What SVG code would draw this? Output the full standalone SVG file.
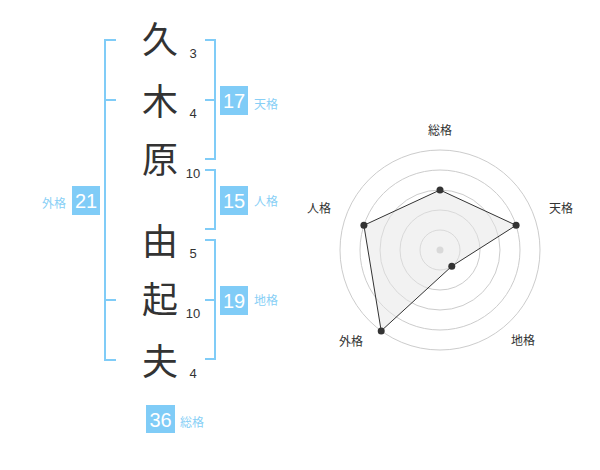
<svg xmlns="http://www.w3.org/2000/svg" width="600" height="470" viewBox="0 0 600 470">
<style>
.kanji{font-family:"Noto Sans CJK JP","Noto Sans CJK SC",sans-serif;font-size:36px;fill:#333;text-anchor:middle}
.num{font-family:"Liberation Sans",Arial,sans-serif;font-size:13px;fill:#333;text-anchor:middle}
.br{fill:none;stroke:#80ccf7;stroke-width:2}
.box{fill:#80ccf7}
.bn{font-family:"Liberation Sans",Arial,sans-serif;font-size:20px;fill:#fff;text-anchor:middle}
.lb{font-family:"Noto Sans CJK JP","Noto Sans CJK SC",sans-serif;font-size:12px;fill:#88cff6}
.rl{font-family:"Noto Sans CJK JP","Noto Sans CJK SC",sans-serif;font-size:12px;fill:#333;text-anchor:middle}
.ring{fill:none;stroke:#ccc;stroke-width:1}
.pt{fill:#333}
</style>
<rect width="600" height="470" fill="#fff"/>
<g id="name">
<g id="c1"><text class="kanji" x="160" y="53">久</text><text class="num" x="193" y="58">3</text></g>
<g id="c2"><text class="kanji" x="160" y="115">木</text><text class="num" x="193" y="118">4</text></g>
<g id="c3"><text class="kanji" x="160" y="173">原</text><text class="num" x="193" y="178">10</text></g>
<g id="c4"><text class="kanji" x="160" y="255">由</text><text class="num" x="193" y="258">5</text></g>
<g id="c5"><text class="kanji" x="160" y="313">起</text><text class="num" x="193" y="318">10</text></g>
<g id="c6"><text class="kanji" x="160" y="375">夫</text><text class="num" x="193" y="378">4</text></g>
</g>
<g id="brackets">
<path class="br" d="M116,40 H105 V360 H116 M105,100 H116 M105,300 H116"/>
<path class="br" d="M205,40 H215 V159 H205 M205,100 H215"/>
<path class="br" d="M205,170 H215 V229 H205"/>
<path class="br" d="M205,240 H215 V359 H205 M205,300 H215"/>
</g>
<g id="tenkaku"><rect class="box" x="220" y="86" width="28" height="29"/><text class="bn" x="234" y="108">17</text><text class="lb" x="254" y="109">天格</text></g>
<g id="jinkaku"><rect class="box" x="220" y="186" width="28" height="29"/><text class="bn" x="234" y="208">15</text><text class="lb" x="254" y="206">人格</text></g>
<g id="chikaku"><rect class="box" x="220" y="286" width="28" height="29"/><text class="bn" x="234" y="308">19</text><text class="lb" x="254" y="305">地格</text></g>
<g id="gaikaku"><rect class="box" x="72" y="186" width="28" height="29"/><text class="bn" x="86" y="208">21</text><text class="lb" x="66" y="208" text-anchor="end">外格</text></g>
<g id="soukaku"><rect class="box" x="146" y="405" width="29" height="28"/><text class="bn" x="160.5" y="427">36</text><text class="lb" x="180" y="427">総格</text></g>
<g id="radar">
<circle class="ring" cx="440" cy="250" r="20"/>
<circle class="ring" cx="440" cy="250" r="40"/>
<circle class="ring" cx="440" cy="250" r="60"/>
<circle class="ring" cx="440" cy="250" r="80"/>
<circle class="ring" cx="440" cy="250" r="100"/>
<circle cx="440" cy="250" r="3.5" fill="#ccc"/>
<polygon points="440,190 516.1,225.3 451.8,266.2 381.2,330.9 363.9,225.3" fill="#e6e6e6" fill-opacity="0.5" stroke="#333" stroke-width="1"/>
<circle class="pt" cx="440" cy="190" r="3.5"/>
<circle class="pt" cx="516.1" cy="225.3" r="3.5"/>
<circle class="pt" cx="451.8" cy="266.2" r="3.5"/>
<circle class="pt" cx="381.2" cy="330.9" r="3.5"/>
<circle class="pt" cx="363.9" cy="225.3" r="3.5"/>
<text class="rl" x="440" y="135">総格</text>
<text class="rl" x="561" y="213">天格</text>
<text class="rl" x="523" y="345">地格</text>
<text class="rl" x="351" y="346">外格</text>
<text class="rl" x="319" y="213">人格</text>
</g>
</svg>
